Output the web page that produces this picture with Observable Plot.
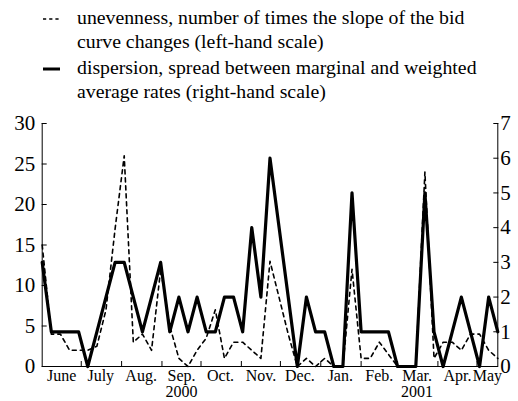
<!DOCTYPE html>
<html><head><meta charset="utf-8">
<script src="https://cdn.jsdelivr.net/npm/d3@7"></script>
<script src="https://cdn.jsdelivr.net/npm/@observablehq/plot@0.6"></script>
<style>
body{margin:0;background:#fff;}
#wrap{position:relative;width:518px;height:401px;font-family:"Liberation Serif","Times New Roman",serif;color:#000;background:#fff;}
#legend{position:absolute;left:0;top:0;width:518px;height:106px;z-index:2;}
.item{position:absolute;left:77px;font-size:19.8px;line-height:23.5px;white-space:nowrap;}
.sw{position:absolute;left:0;top:0;}
#chart{position:absolute;left:0;top:100px;z-index:1;}
</style></head><body>
<div id="wrap">
  <div id="legend">
    <svg class="sw" width="80" height="100">
      <line x1="43" x2="60" y1="19" y2="19" stroke="#000" stroke-width="1.6" stroke-dasharray="3.2,3"/>
      <line x1="43" x2="60" y1="69" y2="69" stroke="#000" stroke-width="3"/>
    </svg>
    <div class="item" id="l1" style="top:6px"></div>
    <div class="item" id="l2" style="top:56px"></div>
  </div>
  <div id="chart"></div>
</div>
<script>
const legendUnevenness = ["unevenness, number of times the slope of the bid", "curve changes (left-hand scale)"];
const legendDispersion = ["dispersion, spread between marginal and weighted", "average rates (right-hand scale)"];

const dates = [
  "2000-06-01","2000-06-08","2000-06-15","2000-06-22","2000-06-29","2000-07-06","2000-07-13","2000-07-20","2000-07-27",
  "2000-08-03","2000-08-10","2000-08-17","2000-08-24","2000-08-31","2000-09-07","2000-09-14","2000-09-21","2000-09-28",
  "2000-10-05","2000-10-12","2000-10-19","2000-10-26","2000-11-02","2000-11-09","2000-11-16","2000-11-23","2000-11-30",
  "2000-12-07","2000-12-14","2000-12-21","2000-12-28","2001-01-04","2001-01-11","2001-01-18","2001-01-25","2001-02-01",
  "2001-02-08","2001-02-15","2001-02-22","2001-03-01","2001-03-08","2001-03-15","2001-03-22","2001-03-29","2001-04-05",
  "2001-04-12","2001-04-19","2001-04-26","2001-05-03","2001-05-10","2001-05-17"
];
// left-hand scale
const unevenness = [15,4,4,2,2,2,2.5,7,17,26,3,4,2,12,5,1,0,2,3.5,7,1,3,3,2,1,13,8.5,4,0,1,0,1,0,0,12,1,1,3,1.5,0,0,0,24,1,3,3,2,4,4,2,1];
// right-hand scale
const dispersion = [3,1,1,1,1,0,1,2,3,3,2,1,2,3,1,2,1,2,1,1,2,2,1,4,2,6,4,2,0,2,1,1,0,0,5,1,1,1,1,0,0,0,5,1,0,1,2,1,0,2,1];

const leftTicks = [0,5,10,15,20,25,30];
const rightTicks = [0,1,2,3,4,5,6,7];
const monthStarts = ["2000-07-01","2000-08-01","2000-09-01","2000-10-01","2000-11-01","2000-12-01","2001-01-01","2001-02-01","2001-03-01","2001-04-01","2001-05-01"];
const monthLabelDates = ["2000-06-16","2000-07-16","2000-08-16","2000-09-16","2000-10-16","2000-11-16","2000-12-16","2001-01-16","2001-02-15","2001-03-16","2001-04-16","2001-05-09"];
const monthLabels = ["June","July","Aug.","Sep.\n2000","Oct.","Nov.","Dec.","Jan.","Feb.","Mar.\n2001","Apr.","May"];

document.getElementById("l1").innerHTML = legendUnevenness.join("<br>");
document.getElementById("l2").innerHTML = legendDispersion.join("<br>");

const xDomain = [new Date("2000-06-01"), new Date("2001-05-17")];
const k = 30 / 7;
const data = dates.map((d, i) => ({date: new Date(d), u: unevenness[i], d: dispersion[i] * k}));
const labels = monthLabelDates.map((d, i) => ({date: new Date(d), label: monthLabels[i]}));

const chart = Plot.plot({
  width: 518,
  height: 301,
  marginTop: 23,
  marginBottom: 35,
  marginLeft: 41.7,
  marginRight: 20.7,
  style: {fontFamily: "'Liberation Serif', 'Times New Roman', serif", background: "transparent", color: "black", overflow: "visible"},
  x: {type: "utc", domain: xDomain},
  y: {domain: [0, 30]},
  marks: [
    Plot.ruleX([xDomain[0], xDomain[1]], {stroke: "black", strokeWidth: 1}),
    Plot.ruleY([0], {stroke: "black", strokeWidth: 1}),
    Plot.axisY({anchor: "left", ticks: leftTicks, tickSize: -5, tickPadding: 12, fontSize: 21, label: null, strokeWidth: 1}),
    Plot.axisY({anchor: "right", ticks: rightTicks.map(v => v * k), tickSize: -5, tickPadding: 7.5, fontSize: 21, label: null, tickFormat: v => String(Math.round(v / k))}),
    Plot.axisX({ticks: monthStarts.map(d => new Date(d)), tickSize: -5, tickFormat: () => "", label: null}),
    Plot.text(labels, {x: "date", text: "label", frameAnchor: "bottom", lineAnchor: "top", dy: 3, fontSize: 16, lineHeight: 1.0, fill: "black"}),
    Plot.line(data, {x: "date", y: "u", stroke: "black", strokeWidth: 1.6, strokeDasharray: "4,4"}),
    Plot.line(data, {x: "date", y: "d", stroke: "black", strokeWidth: 3.2, strokeLinejoin: "round"})
  ]
});
document.getElementById("chart").appendChild(chart);
</script>
</body></html>
